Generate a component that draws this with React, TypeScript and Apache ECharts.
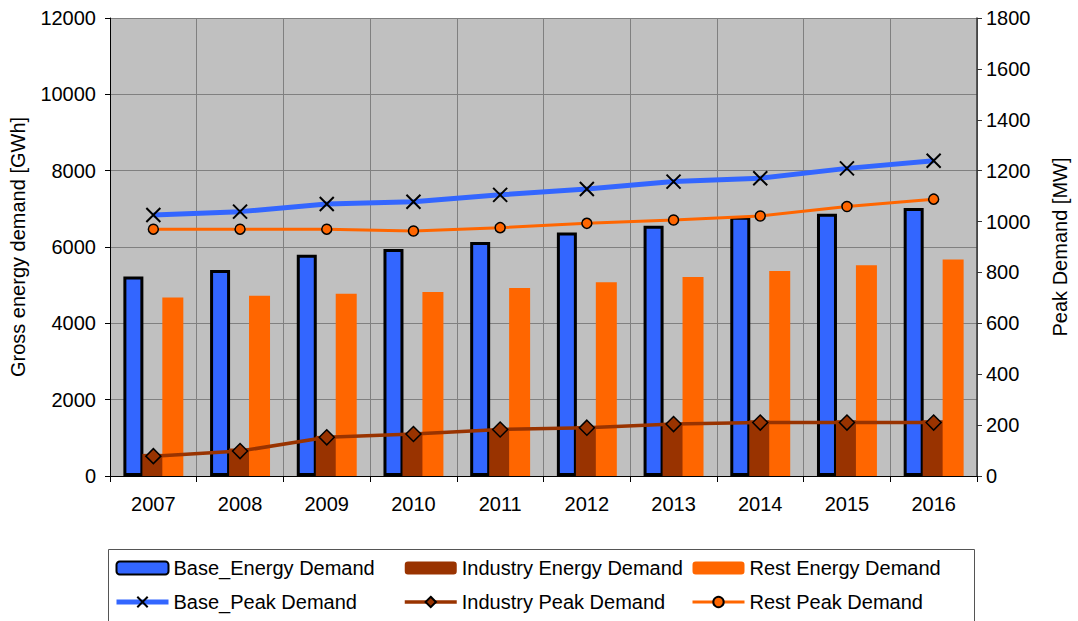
import React, { useEffect, useRef } from "react";
import * as echarts from "echarts";

const years = ["2007", "2008", "2009", "2010", "2011", "2012", "2013", "2014", "2015", "2016"];
const baseEnergy = [5230, 5400, 5800, 5950, 6130, 6380, 6560, 6790, 6870, 7020];
const industryEnergy = [580, 720, 1050, 1120, 1220, 1310, 1380, 1460, 1460, 1460];
const restEnergy = [4680, 4725, 4775, 4820, 4925, 5075, 5215, 5370, 5520, 5670];
const basePeak = [1026, 1039, 1069, 1078, 1105, 1128, 1157, 1170, 1209, 1239];
const industryPeak = [78, 98, 152, 165, 183, 190, 204, 210, 210, 210];
const restPeak = [970, 970, 970, 963, 976, 993, 1006, 1022, 1059, 1088];

const FONT = "'Liberation Sans', Arial, sans-serif";
const BLUE = "#3366FF";
const BROWN = "#993300";
const ORANGE = "#FF6600";

export default function App() {
  const ref = useRef<HTMLDivElement>(null);
  useEffect(() => {
    if (!ref.current) return;
    const chart = echarts.init(ref.current, null, { renderer: "svg" });
    const legendBase = {
      orient: "vertical" as const,
      top: 558,
      itemWidth: 52,
      itemHeight: 13,
      itemGap: 14,
      padding: 0,
      textStyle: { fontFamily: FONT, fontSize: 20, color: "#000" },
    };
    const plain = (v: number) => String(v);
    chart.setOption({
      animation: false,
      textStyle: { fontFamily: FONT },
      grid: {
        left: 110,
        right: 98,
        top: 18,
        bottom: 145,
        show: true,
        backgroundColor: "#C0C0C0",
        borderWidth: 0,
      },
      legend: [
        {
          ...legendBase,
          left: 114,
          data: [
            { name: "Base_Energy Demand" },
            { name: "Base_Peak Demand", lineStyle: { width: 5, color: BLUE } },
          ],
        },
        {
          ...legendBase,
          left: 403,
          data: [
            { name: "Industry Energy Demand" },
            { name: "Industry Peak Demand", lineStyle: { width: 3.5, color: BROWN } },
          ],
        },
        {
          ...legendBase,
          left: 691,
          data: [
            { name: "Rest Energy Demand" },
            { name: "Rest Peak Demand", lineStyle: { width: 3, color: ORANGE } },
          ],
        },
      ],
      graphic: [
        {
          type: "rect",
          shape: { x: 108.5, y: 549.5, width: 866, height: 90 },
          style: { fill: "none", stroke: "#555", lineWidth: 1 },
          z: -1,
        },
      ],
      xAxis: {
        type: "category",
        data: years,
        boundaryGap: true,
        axisLine: { lineStyle: { color: "#000", width: 1 } },
        axisTick: { show: true, length: 6, lineStyle: { color: "#000" } },
        axisLabel: { fontSize: 20, color: "#000", margin: 18, fontFamily: FONT },
        splitLine: { show: true, lineStyle: { color: "#808080", width: 1 } },
      },
      yAxis: [
        {
          type: "value",
          min: 0,
          max: 12000,
          interval: 2000,
          name: "Gross energy demand [GWh]",
          nameLocation: "middle",
          nameGap: 82,
          nameTextStyle: { fontSize: 20, color: "#000", fontFamily: FONT },
          axisLine: { show: true, lineStyle: { color: "#000", width: 1 } },
          axisTick: { show: true, length: 5, lineStyle: { color: "#000" } },
          axisLabel: { fontSize: 20, color: "#000", margin: 14, fontFamily: FONT, formatter: plain },
          splitLine: { show: true, lineStyle: { color: "#808080", width: 1 } },
        },
        {
          type: "value",
          min: 0,
          max: 1800,
          interval: 200,
          position: "right",
          name: "Peak Demand [MW]",
          nameLocation: "middle",
          nameGap: 73,
          nameTextStyle: { fontSize: 20, color: "#000", fontFamily: FONT },
          axisLine: { show: true, lineStyle: { color: "#333", width: 1.5 } },
          axisTick: { show: true, length: 5, lineStyle: { color: "#333" } },
          axisLabel: { fontSize: 20, color: "#000", margin: 9, fontFamily: FONT, formatter: plain },
          splitLine: { show: false },
        },
      ],
      series: [
        {
          name: "Base_Energy Demand",
          type: "bar",
          data: baseEnergy,
          barWidth: 20,
          barGap: "-5%",
          itemStyle: { color: BLUE, borderColor: "#000", borderWidth: 3 },
        },
        {
          name: "Industry Energy Demand",
          type: "bar",
          data: industryEnergy,
          barWidth: 21,
          barGap: "-5%",
          itemStyle: { color: BROWN },
        },
        {
          name: "Rest Energy Demand",
          type: "bar",
          data: restEnergy,
          barWidth: 21,
          barGap: "-5%",
          itemStyle: { color: ORANGE },
        },
        {
          name: "Base_Peak Demand",
          type: "line",
          yAxisIndex: 1,
          data: basePeak,
          symbol: "path://M0,0L10,10M10,0L0,10",
          symbolSize: 14,
          lineStyle: { color: BLUE, width: 5 },
          itemStyle: { color: "#000", borderColor: "#000", borderWidth: 2 },
        },
        {
          name: "Industry Peak Demand",
          type: "line",
          yAxisIndex: 1,
          data: industryPeak,
          symbol: "diamond",
          symbolSize: 15,
          lineStyle: { color: BROWN, width: 3.5 },
          itemStyle: { color: BROWN, borderColor: "#000", borderWidth: 1.5 },
        },
        {
          name: "Rest Peak Demand",
          type: "line",
          yAxisIndex: 1,
          data: restPeak,
          symbol: "circle",
          symbolSize: 10,
          lineStyle: { color: ORANGE, width: 3 },
          itemStyle: { color: ORANGE, borderColor: "#000", borderWidth: 1.5 },
        },
      ],
    });
    return () => chart.dispose();
  }, []);
  return (
    <div
      ref={ref}
      style={{ position: "fixed", left: 0, top: 0, width: 1078, height: 621, background: "#fff" }}
    />
  );
}
